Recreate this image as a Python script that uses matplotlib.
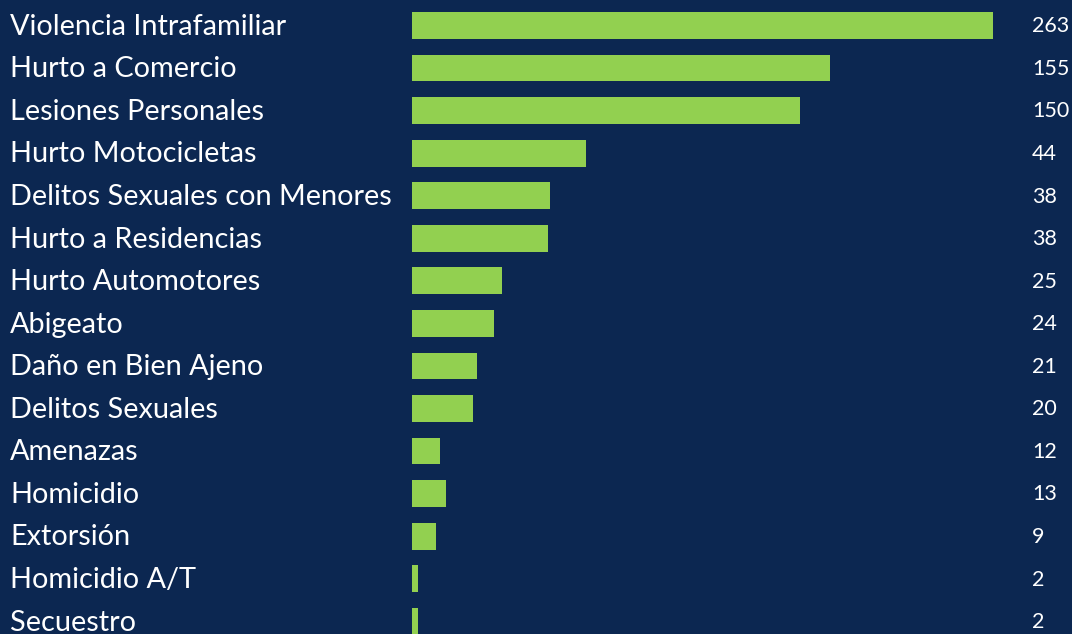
import matplotlib
matplotlib.use("Agg")
import matplotlib.pyplot as plt

categories = [
    "Violencia Intrafamiliar", "Hurto a Comercio", "Lesiones Personales",
    "Hurto Motocicletas", "Delitos Sexuales con Menores", "Hurto a Residencias",
    "Hurto Automotores", "Abigeato", "Daño en Bien Ajeno", "Delitos Sexuales",
    "Amenazas", "Homicidio", "Extorsión", "Homicidio A/T", "Secuestro",
]
values = [263, 155, 150, 44, 38, 38, 25, 24, 21, 20, 12, 13, 9, 2, 2]
# displayed bar lengths as drawn in the picture (not proportional to values)
bar_lengths = [581, 418, 388, 174, 138, 136, 90, 82, 65, 61, 28, 34, 24, 6, 6]

BG = "#0C2751"
GREEN = "#92D050"
FONT = "Lato"

fig = plt.figure(figsize=(10.72, 6.34), dpi=100, facecolor=BG)
ax = fig.add_axes([0, 0, 1, 1])
ax.set_facecolor(BG)

ypos = list(range(len(categories)))
ax.barh(ypos, bar_lengths, height=0.63, color=GREEN, left=0)

for y, cat, v in zip(ypos, categories, values):
    ax.text(-402, y + 0.03, cat, ha="left", va="center", color="white",
            fontsize=20.8, family=FONT, fontweight="normal")
    ax.text(620, y + 0.02, str(v), ha="left", va="center", color="white",
            fontsize=15.5, family=FONT, fontweight="normal")

ax.set_xlim(-412, 660)
ax.set_ylim(14.30, -0.599)
ax.axis("off")

fig.savefig("out.png", dpi=100, facecolor=BG)
